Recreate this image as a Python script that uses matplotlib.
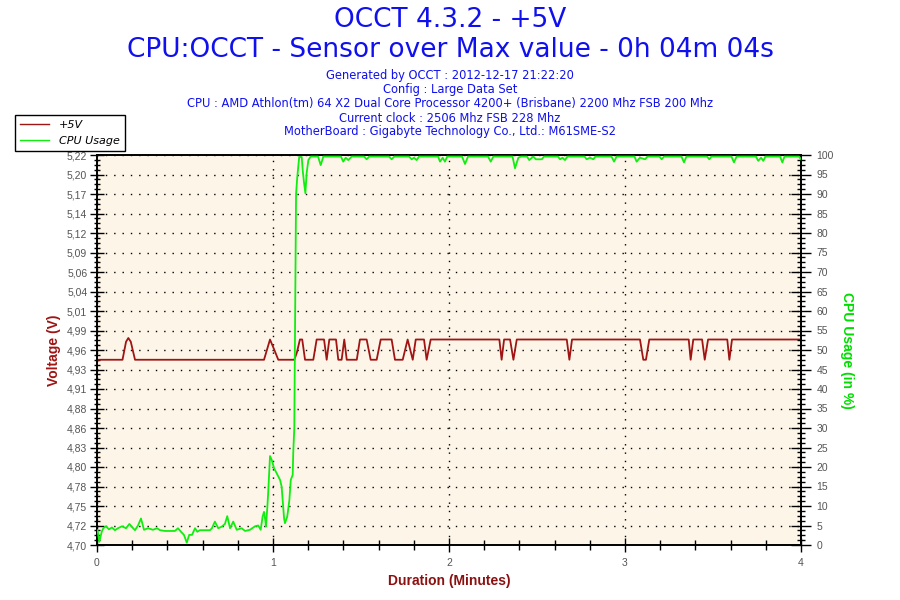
import matplotlib
matplotlib.use("Agg")
import matplotlib.pyplot as plt
import numpy as np
from matplotlib.ticker import MultipleLocator, AutoMinorLocator
from matplotlib.lines import Line2D

# ---------------- data ----------------
L, H, P = 4.947, 4.974, 4.976
volt_t = [0.000, 0.145, 0.165, 0.178, 0.192, 0.216, 0.949, 0.983, 1.006, 1.030,
          1.121, 1.135, 1.153, 1.166, 1.182, 1.229, 1.248, 1.290, 1.305, 1.320,
          1.358, 1.371, 1.390, 1.405, 1.419, 1.476, 1.494, 1.532, 1.555, 1.589,
          1.612, 1.674, 1.693, 1.737, 1.765, 1.794, 1.811, 1.858, 1.873, 1.896,
          2.286, 2.299, 2.313, 2.347, 2.366, 2.385, 2.669, 2.684, 2.699, 3.085,
          3.104, 3.119, 3.138, 3.362, 3.373, 3.388, 3.438, 3.453, 3.472, 3.581,
          3.593, 3.608, 4.000]
volt_v = [L, L, 4.971, P, 4.971, L, L, 4.974, 4.961, L,
          L, 4.956, H, H, L, L, H, H, L, H,
          H, L, L, H, L, L, H, H, L, L,
          H, H, L, L, H, L, H, H, L, H,
          H, L, H, H, L, H, H, L, H, H,
          L, L, H, H, L, H, H, L, H, H,
          L, H, H]

cpu_t = [0.003, 0.013, 0.027, 0.036, 0.051, 0.068, 0.085, 0.102, 0.119, 0.142,
         0.165, 0.184, 0.199, 0.216, 0.233, 0.250, 0.267, 0.290, 0.318, 0.341,
         0.358, 0.386, 0.415, 0.443, 0.460, 0.477, 0.494, 0.510, 0.524, 0.540,
         0.557, 0.570, 0.585, 0.614, 0.642, 0.653, 0.670, 0.689, 0.709, 0.727,
         0.740, 0.756, 0.774, 0.794, 0.822, 0.841, 0.869, 0.898, 0.916, 0.930,
         0.941, 0.949, 0.956, 0.960, 0.968, 0.973, 0.983, 0.993, 1.006, 1.021,
         1.040, 1.049, 1.055, 1.063, 1.068, 1.081, 1.093, 1.101, 1.112, 1.115,
         1.121, 1.125, 1.131, 1.138, 1.149, 1.163, 1.169, 1.176, 1.184, 1.191,
         1.201, 1.214, 1.256, 1.271, 1.286, 1.386, 1.399, 1.413, 1.428, 1.447,
         1.517, 1.532, 1.547, 1.659, 1.674, 1.689, 1.773, 1.788, 1.801, 1.816,
         1.830, 1.938, 1.949, 1.964, 1.977, 1.990, 2.074, 2.091, 2.108, 2.222,
         2.237, 2.252, 2.361, 2.375, 2.394, 2.409, 2.443, 2.456, 2.479, 2.494,
         2.527, 2.540, 2.619, 2.631, 2.645, 2.659, 2.673, 2.770, 2.782, 2.801,
         2.820, 2.832, 2.923, 2.938, 2.952, 3.054, 3.066, 3.085, 3.114, 3.128,
         3.196, 3.208, 3.222, 3.321, 3.335, 3.349, 3.466, 3.479, 3.491, 3.605,
         3.619, 3.634, 3.744, 3.757, 3.773, 3.786, 3.798, 3.881, 3.894, 3.906,
         3.989, 4.000]
cpu_v = [3.8, 0.8, 3.4, 4.3, 4.8, 4.0, 4.5, 3.8, 4.3, 4.8,
         4.3, 5.4, 4.6, 3.8, 5.0, 6.8, 3.9, 4.3, 3.9, 4.3,
         3.8, 3.6, 3.6, 3.6, 4.3, 3.4, 2.6, 0.6, 2.6, 2.6,
         4.3, 3.4, 3.8, 3.8, 3.8, 4.3, 6.0, 4.3, 4.7, 5.4,
         7.4, 4.3, 6.0, 3.9, 4.3, 3.6, 3.9, 4.8, 5.0, 3.9,
         7.3, 8.5, 6.4, 4.7, 9.8, 13.7, 22.8, 21.8, 19.7, 18.4,
         16.7, 15.0, 11.5, 6.8, 5.6, 7.3, 11.5, 16.7, 18.0, 23.6,
         30.0, 55.0, 90.0, 94.4, 99.5, 99.5, 96.0, 93.0, 90.2, 95.3,
         98.7, 99.6, 99.6, 97.4, 99.6, 99.6, 98.3, 99.3, 98.7, 99.6,
         99.6, 98.9, 99.6, 99.6, 98.9, 99.6, 99.6, 98.9, 99.3, 98.7,
         99.6, 99.6, 98.3, 99.3, 98.3, 99.6, 99.6, 97.7, 99.6, 99.6,
         98.3, 99.6, 99.6, 96.6, 99.3, 99.6, 99.6, 98.7, 99.6, 98.9,
         98.9, 99.6, 99.6, 98.9, 99.3, 98.7, 99.6, 99.6, 98.9, 99.3,
         98.9, 99.6, 99.6, 98.3, 99.6, 99.6, 98.3, 99.3, 98.9, 99.6,
         99.6, 98.9, 99.6, 99.6, 98.1, 99.6, 99.6, 98.9, 99.6, 99.6,
         98.1, 99.6, 99.6, 98.5, 99.3, 98.5, 99.6, 99.6, 98.1, 99.6,
         99.6, 98.9]

volt_ticklabels = ['4,70', '4,72', '4,75', '4,78', '4,80', '4,83', '4,86', '4,88',
                   '4,91', '4,93', '4,96', '4,99', '5,01', '5,04', '5,06', '5,09',
                   '5,12', '5,14', '5,17', '5,20', '5,22']
cpu_ticks = list(range(0, 101, 5))
x_ticks = [0, 1, 2, 3, 4]

title1 = "OCCT 4.3.2 - +5V"
title2 = "CPU:OCCT - Sensor over Max value - 0h 04m 04s"
info_lines = ["Generated by OCCT : 2012-12-17 21:22:20",
              "Config : Large Data Set",
              "CPU : AMD Athlon(tm) 64 X2 Dual Core Processor 4200+ (Brisbane) 2200 Mhz FSB 200 Mhz",
              "Current clock : 2506 Mhz FSB 228 Mhz",
              "MotherBoard : Gigabyte Technology Co., Ltd.: M61SME-S2"]

# ---------------- styling ----------------
VCOL = '#A01414'
GCOL = '#10EE10'
BLUE = '#1010EE'
TICKC = '#555555'

fig = plt.figure(figsize=(9, 6), dpi=100)
fig.patch.set_facecolor('white')
ax = fig.add_axes([97/900, 55/600, 704/900, 390/600])
ax.set_facecolor('#FDF6E8')
ax2 = ax.twinx()

vmin, vmax = 4.70, 5.22
ax.set_xlim(0, 4)
ax.set_ylim(vmin, vmax)
ax2.set_ylim(0, 100)

vt = np.linspace(vmin, vmax, len(volt_ticklabels))
ax.set_yticks(vt)
ax.set_yticklabels(volt_ticklabels)
ax.yaxis.set_minor_locator(AutoMinorLocator(4))
ax.set_xticks(x_ticks)
ax.set_xticklabels([str(x) for x in x_ticks])
ax.xaxis.set_minor_locator(MultipleLocator(0.2))
ax2.set_yticks(cpu_ticks)
ax2.set_yticklabels([str(c) for c in cpu_ticks])
ax2.yaxis.set_minor_locator(AutoMinorLocator(4))

for a in (ax, ax2):
    for lab in a.get_xticklabels() + a.get_yticklabels():
        lab.set_fontfamily('Liberation Sans')
        lab.set_fontsize(7.5)
        lab.set_color(TICKC)

ax.tick_params(axis='y', which='major', direction='inout', length=10, width=1, color='black', pad=2)
ax.tick_params(axis='y', which='minor', direction='inout', length=5, width=1, color='black')
ax.tick_params(axis='x', which='major', direction='inout', length=10, width=1, color='black', pad=4)
ax.tick_params(axis='x', which='minor', direction='inout', length=7, width=1, color='black')
ax2.tick_params(axis='y', which='major', direction='inout', length=14, width=1, color='black', pad=4)
ax2.tick_params(axis='y', which='minor', direction='inout', length=6, width=1, color='black')

for a in (ax, ax2):
    for s in a.spines.values():
        s.set_color('black')
        s.set_linewidth(1.2)

# grid
ax.grid(True, which='major', axis='both', color='black', linestyle=(0, (1, 5)), linewidth=1)
ax.set_axisbelow(True)

# data lines
ax.plot(volt_t, volt_v, color=VCOL, linewidth=1.3, zorder=3, label='+5V')
ax2.plot(cpu_t, cpu_v, color=GCOL, linewidth=1.3, zorder=3, label='CPU Usage')

# axis labels
ax.set_ylabel('Voltage (V)', color=VCOL, fontweight='bold', fontsize=10,
              family='Liberation Sans', labelpad=4)
ax2.set_ylabel('CPU Usage (in %)', color='#00DD00', fontweight='bold', fontsize=10,
               family='Liberation Sans', rotation=-90, labelpad=15)
ax.set_xlabel('Duration (Minutes)', color='#8B1010', fontweight='bold', fontsize=10,
              family='Liberation Sans', labelpad=5)

# titles
fig.text(0.5, 1 - 20/600, title1, ha='center', va='center', color=BLUE,
         fontsize=19, family='DejaVu Sans')
fig.text(0.5, 1 - 50/600, title2, ha='center', va='center', color=BLUE,
         fontsize=19, family='DejaVu Sans')
for i, line in enumerate(info_lines):
    fig.text(0.5, 1 - (76 + 14 * i)/600, line, ha='center', va='center',
             color=BLUE, fontsize=8.3, family='DejaVu Sans')

# legend
handles = [Line2D([0], [0], color=VCOL, lw=1), Line2D([0], [0], color=GCOL, lw=1)]
leg = fig.legend(handles, ['+5V', 'CPU Usage'], loc='upper left',
                 bbox_to_anchor=(15/900, 1 - 115/600), bbox_transform=fig.transFigure,
                 frameon=True, fancybox=False, edgecolor='black', framealpha=1,
                 borderaxespad=0, borderpad=0.45, labelspacing=0.55, handlelength=2.6,
                 handletextpad=0.9, prop=dict(style='italic', size=8, family='DejaVu Sans'))
leg.get_frame().set_linewidth(1)

fig.savefig('out.png', dpi=100)
